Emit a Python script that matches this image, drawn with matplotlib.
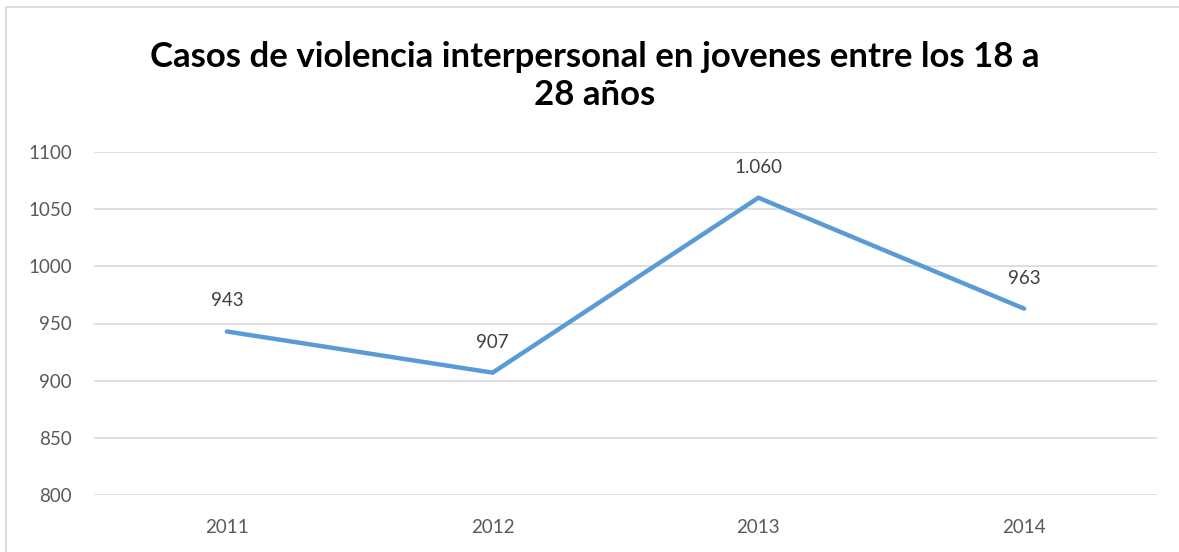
import matplotlib
matplotlib.use("Agg")
import matplotlib.pyplot as plt
from matplotlib.patches import Rectangle

years = ["2011", "2012", "2013", "2014"]
cases = [943, 907, 1060, 963]
labels = ["943", "907", "1.060", "963"]
yticks = [800, 850, 900, 950, 1000, 1050, 1100]
title = "Casos de violencia interpersonal en jovenes entre los 18 a\n28 años"

plt.rcParams['font.family'] = ['Lato', 'DejaVu Sans']

W, H = 1179, 552
fig = plt.figure(figsize=(W / 100, H / 100), dpi=100)
fig.patch.set_facecolor('white')

# outer chart frame
fig.add_artist(Rectangle((6 / W, -0.1), 1.2, (H - 7) / H + 0.1, transform=fig.transFigure,
                         fill=False, edgecolor='#D9D9D9', linewidth=1.2))

left, right = 94 / W, 1157 / W
bottom, top = 1 - 495 / H, 1 - 152 / H
ax = fig.add_axes([left, bottom, right - left, top - bottom])

x = list(range(len(years)))
ax.plot(x, cases, color='#5B9BD5', linewidth=3.2, solid_capstyle='round', solid_joinstyle='miter', zorder=3)
ax.set_xlim(-0.5, len(years) - 0.5)
ax.set_ylim(800, 1100)
ax.set_yticks(yticks)
ax.set_yticklabels([str(v) for v in yticks])
ax.set_xticks(x)
ax.set_xticklabels(years)
ax.grid(axis='y', color='#D9D9D9', linewidth=1.2)
ax.set_axisbelow(True)
for s in ax.spines.values():
    s.set_visible(False)
ax.tick_params(axis='both', length=0, labelsize=13.5, colors='#595959')
ax.tick_params(axis='y', pad=16)
ax.tick_params(axis='x', pad=17)

for xi, v, lab in zip(x, cases, labels):
    ax.annotate(lab, (xi, v), xytext=(0, 22), textcoords='offset points',
                ha='center', va='center', fontsize=13.5, color='#404040')

fig.text(595 / W, 1 - 76 / H, title, ha='center', va='center', fontsize=25,
         fontweight='bold', color='black', linespacing=1.2)

fig.savefig('out.png', dpi=100, facecolor='white')
